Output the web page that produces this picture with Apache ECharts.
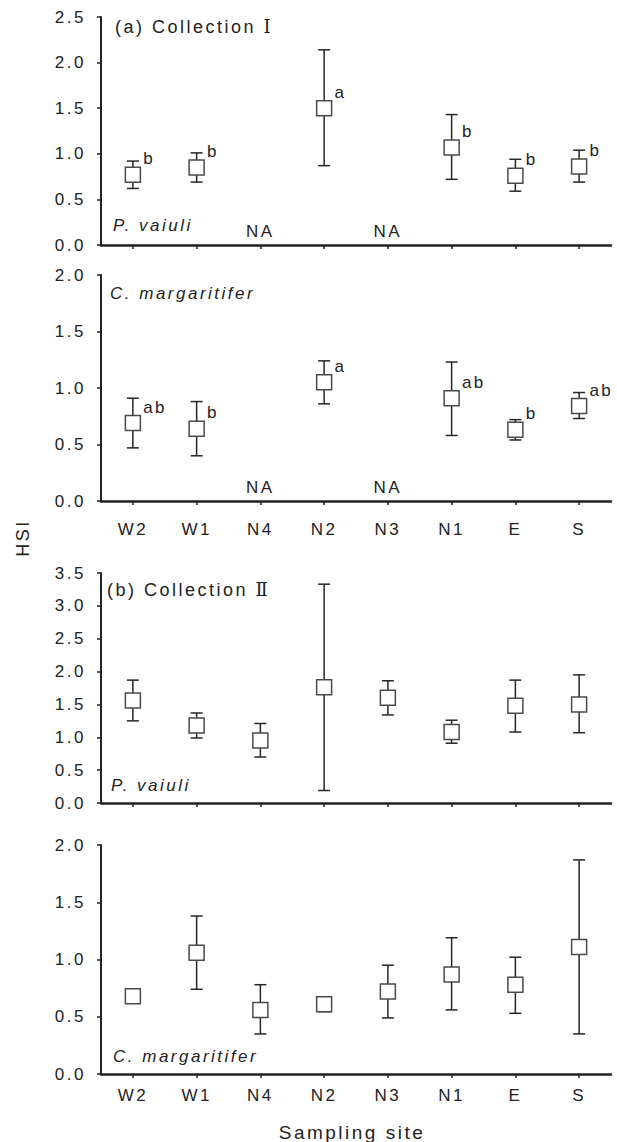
<!DOCTYPE html>
<html>
<head>
<meta charset="utf-8">
<script src="https://cdn.jsdelivr.net/npm/echarts@6/dist/echarts.min.js"></script>
<style>
  html, body { margin: 0; padding: 0; background: #fff; }
  #chart { width: 617px; height: 1142px; }
  #chart svg text { letter-spacing: 2.5px; }
</style>
</head>
<body>
<div id="chart"></div>
<script>
// ---- data ----
const sites = ['W2', 'W1', 'N4', 'N2', 'N3', 'N1', 'E', 'S'];

// (a) Collection I, P. vaiuli
const c1PvMean  = [0.77, 0.85, null, 1.50, null, 1.07, 0.76, 0.86];
const c1PvLower = [0.62, 0.69, null, 0.87, null, 0.72, 0.59, 0.69];
const c1PvUpper = [0.92, 1.01, null, 2.14, null, 1.43, 0.94, 1.04];
const c1PvSig   = ['b', 'b', null, 'a', null, 'b', 'b', 'b'];

// (a) Collection I, C. margaritifer
const c1CmMean  = [0.69, 0.64, null, 1.05, null, 0.91, 0.63, 0.84];
const c1CmLower = [0.47, 0.40, null, 0.86, null, 0.58, 0.54, 0.73];
const c1CmUpper = [0.91, 0.88, null, 1.24, null, 1.23, 0.72, 0.96];
const c1CmSig   = ['ab', 'b', null, 'a', null, 'ab', 'b', 'ab'];

// (b) Collection II, P. vaiuli
const c2PvMean  = [1.56, 1.18, 0.95, 1.76, 1.60, 1.08, 1.48, 1.50];
const c2PvLower = [1.25, 0.99, 0.70, 0.19, 1.34, 0.91, 1.08, 1.07];
const c2PvUpper = [1.87, 1.37, 1.21, 3.33, 1.86, 1.26, 1.87, 1.95];

// (b) Collection II, C. margaritifer
const c2CmMean  = [0.68, 1.06, 0.56, 0.61, 0.72, 0.87, 0.78, 1.11];
const c2CmLower = [0.66, 0.74, 0.35, 0.545, 0.49, 0.56, 0.53, 0.35];
const c2CmUpper = [0.70, 1.38, 0.78, 0.675, 0.95, 1.19, 1.02, 1.87];

const yMaxes = [2.5, 2.0, 3.5, 2.0];
const yStep = 0.5;
const xTitle = 'Sampling site';
const yTitle = 'HSI';
const panelTitles = ['(a) Collection Ⅰ', '(b) Collection Ⅱ'];
const speciesNames = ['P. vaiuli', 'C. margaritifer', 'P. vaiuli', 'C. margaritifer'];

// ---- layout ----
const FONT = "'Liberation Sans', Arial, Helvetica, sans-serif";
const TITLE_FONT = "'Liberation Sans', 'DejaVu Serif', 'Liberation Serif', serif";
const INK = '#222';
const grids = [
  { left: 101, width: 510, top: 17,  height: 228 },
  { left: 101, width: 510, top: 275, height: 226 },
  { left: 101, width: 510, top: 573, height: 230 },
  { left: 101, width: 510, top: 845, height: 229 }
];
const showXLabels = [false, true, false, true];
const xLabelMargin = [20, 20, 13, 13];

const panels = [
  { mean: c1PvMean, lower: c1PvLower, upper: c1PvUpper, sig: c1PvSig },
  { mean: c1CmMean, lower: c1CmLower, upper: c1CmUpper, sig: c1CmSig },
  { mean: c2PvMean, lower: c2PvLower, upper: c2PvUpper, sig: null },
  { mean: c2CmMean, lower: c2CmLower, upper: c2CmUpper, sig: null }
];

function renderErr(params, api) {
  const x = api.value(0);
  const lo = api.coord([x, api.value(1)]);
  const hi = api.coord([x, api.value(2)]);
  const hw = 6;
  const style = { stroke: '#262626', lineWidth: 1.5, fill: null };
  return {
    type: 'group',
    children: [
      { type: 'line', shape: { x1: lo[0], y1: lo[1], x2: hi[0], y2: hi[1] }, style: style },
      { type: 'line', shape: { x1: hi[0] - hw, y1: hi[1], x2: hi[0] + hw, y2: hi[1] }, style: style },
      { type: 'line', shape: { x1: lo[0] - hw, y1: lo[1], x2: lo[0] + hw, y2: lo[1] }, style: style }
    ]
  };
}

const xAxes = [], yAxes = [], series = [];
panels.forEach((p, k) => {
  xAxes.push({
    type: 'category', gridIndex: k, data: sites, boundaryGap: true,
    axisLine: { show: true, lineStyle: { color: INK, width: 2.5 } },
    axisTick: { show: true, alignWithLabel: true, interval: 0, length: 4, lineStyle: { color: INK, width: 1.5 } },
    axisLabel: { show: showXLabels[k], interval: 0, margin: xLabelMargin[k], fontSize: 17, fontFamily: FONT, color: INK },
    splitLine: { show: false }
  });
  yAxes.push({
    type: 'value', gridIndex: k, min: 0, max: yMaxes[k], interval: yStep,
    axisLine: { show: true, lineStyle: { color: INK, width: 2 } },
    axisTick: { show: true, length: 4, lineStyle: { color: INK, width: 1.5 } },
    axisLabel: { margin: 15, fontSize: 17, fontFamily: FONT, color: INK, formatter: v => v.toFixed(1) },
    splitLine: { show: false }
  });

  const errData = [], meanData = [], naData = [];
  sites.forEach((s, i) => {
    if (p.mean[i] == null) {
      naData.push({ value: [i, 0] });
      return;
    }
    errData.push([i, p.lower[i], p.upper[i]]);
    const item = { value: [i, p.mean[i]] };
    if (p.sig && p.sig[i]) {
      item.label = { show: true, formatter: p.sig[i] };
    }
    meanData.push(item);
  });

  series.push({
    type: 'custom', xAxisIndex: k, yAxisIndex: k, renderItem: renderErr,
    encode: { x: 0, y: [1, 2] }, data: errData, z: 2, silent: true
  });
  series.push({
    type: 'scatter', xAxisIndex: k, yAxisIndex: k, symbol: 'rect', symbolSize: 15,
    itemStyle: { color: '#fff', borderColor: '#4a4a4a', borderWidth: 1.5, opacity: 1 },
    label: { show: false, position: 'right', distance: 2, offset: [0, -16], fontSize: 17, fontFamily: FONT, color: INK },
    data: meanData, z: 3, silent: true
  });
  if (naData.length) {
    series.push({
      type: 'scatter', xAxisIndex: k, yAxisIndex: k, symbolSize: 1,
      itemStyle: { color: 'rgba(0,0,0,0)', opacity: 1 },
      label: { show: true, position: 'top', distance: 5, formatter: 'NA', fontSize: 17, fontFamily: FONT, color: INK },
      data: naData, z: 3, silent: true
    });
  }
});

const titlePos = [[115, 27], [107, 590]];
const speciesPos = [[113, 225], [110, 293], [111, 785], [113, 1056]];

const graphics = [];
panelTitles.forEach((t, i) => {
  graphics.push({
    type: 'text', x: titlePos[i][0], y: titlePos[i][1], silent: true,
    style: {
      text: t, fill: INK, fontSize: 18, fontFamily: TITLE_FONT,
      align: 'left', verticalAlign: 'middle', textAlign: 'left', textVerticalAlign: 'middle'
    }
  });
});
speciesNames.forEach((t, i) => {
  graphics.push({
    type: 'text', x: speciesPos[i][0], y: speciesPos[i][1], silent: true,
    style: {
      text: t, fill: INK, fontSize: 17, fontStyle: 'italic', fontFamily: FONT,
      align: 'left', verticalAlign: 'middle', textAlign: 'left', textVerticalAlign: 'middle'
    }
  });
});
graphics.push({
  type: 'text', x: 23, y: 538, rotation: Math.PI / 2, silent: true,
  style: { text: yTitle, fill: INK, fontSize: 18, fontFamily: FONT,
    align: 'center', verticalAlign: 'middle', textAlign: 'center', textVerticalAlign: 'middle' }
});
graphics.push({
  type: 'text', x: 352, y: 1132, silent: true,
  style: { text: xTitle, fill: INK, fontSize: 19, fontFamily: FONT,
    align: 'center', verticalAlign: 'middle', textAlign: 'center', textVerticalAlign: 'middle' }
});

const chart = echarts.init(document.getElementById('chart'), null, { renderer: 'svg', width: 617, height: 1142 });
chart.setOption({
  backgroundColor: '#fff',
  animation: false,
  grid: grids,
  xAxis: xAxes,
  yAxis: yAxes,
  series: series,
  graphic: graphics
});
</script>
</body>
</html>
